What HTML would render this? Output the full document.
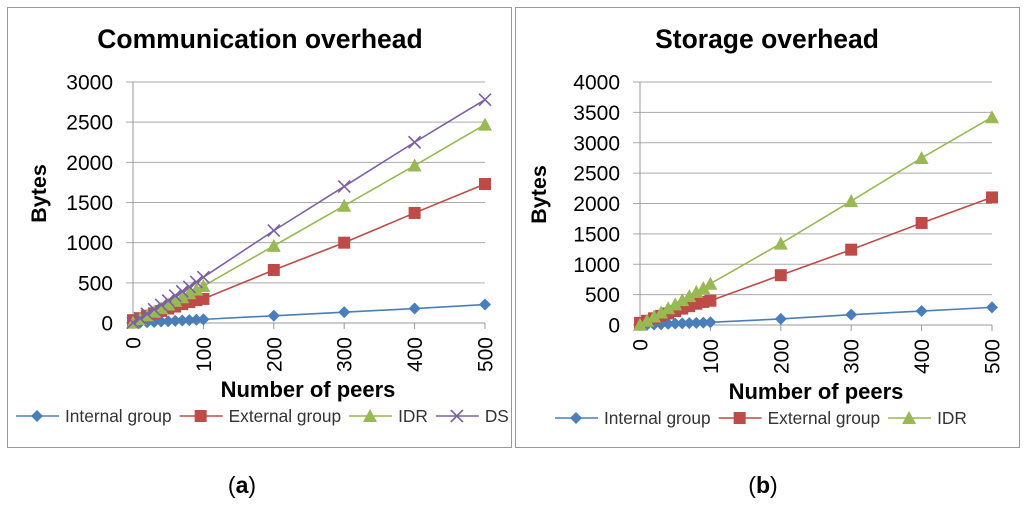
<!DOCTYPE html>
<html><head><meta charset="utf-8">
<style>
body{margin:0;background:#fff;width:1024px;height:503px;overflow:hidden;font-family:"Liberation Sans",sans-serif}
svg text{font-family:"Liberation Sans",sans-serif}
</style></head>
<body>
<svg id="s" width="1024" height="503">
<rect x="7.5" y="7.5" width="504" height="440" fill="#fff" stroke="#999"/>
<rect x="515.5" y="7.5" width="504" height="440" fill="#fff" stroke="#999"/>
<text x="260" y="48" text-anchor="middle" font-size="26.5" font-weight="bold">Communication  overhead</text>
<text x="767" y="48" text-anchor="middle" font-size="26.5" font-weight="bold">Storage overhead</text>
<text x="242" y="493" text-anchor="middle" font-size="23" font-family="Liberation Serif">(<tspan font-weight="bold">a</tspan>)</text>
<text x="763" y="493" text-anchor="middle" font-size="23" font-family="Liberation Serif">(<tspan font-weight="bold">b</tspan>)</text>
</svg>
<script>
const xs=[0,10,20,30,40,50,60,70,80,90,100,200,300,400,500];
const xTicks=[0,100,200,300,400,500];
const aTicks=[0,500,1000,1500,2000,2500,3000];
const bTicks=[0,500,1000,1500,2000,2500,3000,3500,4000];
const aInternal=[0,4,9,13,18,22,27,31,36,40,45,90,135,180,230];
const aExternal=[35,60,90,120,150,180,205,235,260,285,300,660,1000,1370,1730];
const aIDR=[5,50,95,140,185,230,275,320,370,415,460,960,1460,1960,2470];
const aDS=[5,60,115,170,225,280,340,395,450,510,570,1150,1700,2250,2780];
const bInternal=[0,4,9,13,18,22,27,31,36,40,45,100,170,230,290];
const bExternal=[35,70,110,150,190,230,270,310,350,380,400,820,1240,1680,2100];
const bIDR=[5,70,140,205,275,340,410,475,545,610,680,1340,2040,2750,3420];
const NS='http://www.w3.org/2000/svg';
const svg=document.getElementById('s');
function mk(t,a,p){const e=document.createElementNS(NS,t);for(const k in a)e.setAttribute(k,a[k]);(p||svg).appendChild(e);return e;}
const colors={internal:'#4a7ebb',external:'#be4b48',idr:'#98b954',ds:'#7d60a0'};
function marker(kind,x,y,c,g){
  let e;
  if(kind==='diamond')e=mk('polygon',{points:`${x},${y-6} ${x+6},${y} ${x},${y+6} ${x-6},${y}`,fill:c},g);
  else if(kind==='square')e=mk('rect',{x:x-6,y:y-6,width:12,height:12,fill:c},g);
  else if(kind==='tri')e=mk('polygon',{points:`${x},${y-7} ${x+7},${y+6} ${x-7},${y+6}`,fill:c},g);
  else {e=mk('path',{d:`M${x-6},${y-6}L${x+6},${y+6}M${x-6},${y+6}L${x+6},${y-6}`,stroke:c,'stroke-width':1.6,fill:'none'},g);}
  return e;
}
function chart(cfg){
  const {L,R,B,T,max,ticks,series,id,ylx,xlx,legY,legX}=cfg;
  const X=v=>L+(v/500)*(R-L), Y=v=>B-(v/max)*(B-T);
  const g=mk('g',{});
  
  
  ticks.forEach(t=>{
    const ln=mk('line',{x1:L-7,x2:R,y1:Y(t),y2:Y(t),stroke:t===0?'#999':'#aaa','stroke-width':1},g);
    
    
    const tx=mk('text',{x:L-20,y:Y(t)+7.5,'text-anchor':'end','font-size':21,fill:'#000'},g);
    tx.textContent=t;
    
    
  });
  const ax=mk('line',{x1:L,x2:L,y1:T,y2:B+6,stroke:'#999'},g);
  
  
  xTicks.forEach(t=>{
    mk('line',{x1:X(t),x2:X(t),y1:B,y2:B+6,stroke:'#999'},g);
    const tx=mk('text',{x:0,y:0,'font-size':21,'text-anchor':'end',transform:`translate(${X(t)+7.5},${B+14}) rotate(-90)`},g);
    tx.textContent=t;
    
    
  });
  series.forEach(s=>{
    const sg=mk('g',{},g);
    
    
    mk('polyline',{points:xs.map((x,i)=>X(x)+','+Y(s.data[i])).join(' '),fill:'none',stroke:s.c,'stroke-width':1.6},sg);
    xs.forEach((x,i)=>{const m=marker(s.m,X(x),Y(s.data[i]),s.c,sg);
      
      });
  });
  const yl=mk('text',{'font-size':21.5,'font-weight':'bold','text-anchor':'middle',transform:`translate(${ylx},${(T+B)/2-9}) rotate(-90)`},g);
  yl.textContent='Bytes';
  
  
  const xl=mk('text',{x:xlx,y:B+74,'font-size':22,'font-weight':'bold','text-anchor':'middle'},g);
  xl.textContent='Number of peers';
  
  
  let lx=legX;
  series.forEach(s=>{
    const lg=mk('g',{},g);
    
    
    mk('line',{x1:lx,x2:lx+43,y1:legY,y2:legY,stroke:s.c,'stroke-width':1.6},lg);
    marker(s.m,lx+21,legY,s.c,lg);
    const t=mk('text',{x:lx+49,y:legY+6,'font-size':17.3,fill:'#333'},lg);
    t.textContent=s.label;
    lx+=49+t.getComputedTextLength()+8;
  });
}
chart({id:'chart-a',L:133,R:485,B:323,T:82,max:3000,ticks:aTicks,ylx:46,xlx:308,legY:416,legX:16,
series:[{name:'internal',label:'Internal group',data:aInternal,c:colors.internal,m:'diamond'},
{name:'external',label:'External group',data:aExternal,c:colors.external,m:'square'},
{name:'idr',label:'IDR',data:aIDR,c:colors.idr,m:'tri'},
{name:'ds',label:'DS',data:aDS,c:colors.ds,m:'x'}]});
chart({id:'chart-b',L:640,R:992,B:325,T:82,max:4000,ticks:bTicks,ylx:546,xlx:816,legY:418,legX:555,
series:[{name:'internal',label:'Internal group',data:bInternal,c:colors.internal,m:'diamond'},
{name:'external',label:'External group',data:bExternal,c:colors.external,m:'square'},
{name:'idr',label:'IDR',data:bIDR,c:colors.idr,m:'tri'}]});
</script>
</body></html>
